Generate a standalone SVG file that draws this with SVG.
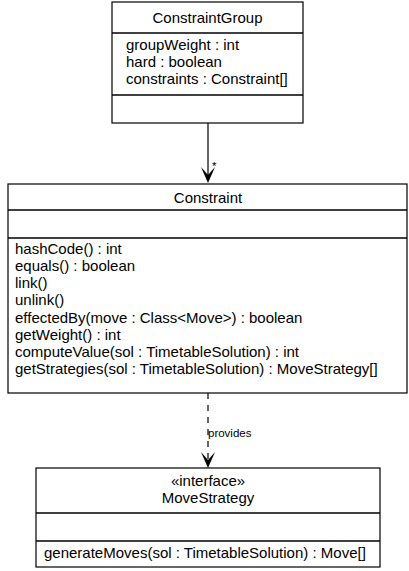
<svg xmlns="http://www.w3.org/2000/svg" width="409" height="571" viewBox="0 0 409 571">
  <style>
    .box { fill: #ffffff; stroke: #000000; stroke-width: 1.2; }
    .sep { stroke: #000000; stroke-width: 1.5; }
    .t { font-family: "Liberation Sans", Arial, sans-serif; font-size: 15px; fill: #000000; }
    .c { text-anchor: middle; }
    .lbl { font-family: "Liberation Sans", Arial, sans-serif; font-size: 11.5px; fill: #000000; }
    .edge { stroke: #000000; stroke-width: 1.2; fill: none; }
    .dash { stroke-dasharray: 6 6; }
    .head { fill: #000000; }
  </style>
  <rect width="409" height="571" fill="#ffffff"/>

  <g id="edges">
    <!-- association ConstraintGroup -> Constraint -->
    <line class="edge" x1="208" y1="123" x2="208" y2="178"/>
    <path class="head" d="M208,183 L201,167 L208,175 L215,167 Z"/>
    <text class="lbl" x="212" y="170">*</text>
    <!-- dependency Constraint -> MoveStrategy -->
    <line class="edge dash" x1="208" y1="393" x2="208" y2="462"/>
    <path class="head" d="M208,468 L201,452 L208,460 L215,452 Z"/>
    <text class="lbl" x="208" y="437">provides</text>
  </g>

  <g id="ConstraintGroup">
    <rect class="box" x="112" y="2" width="191" height="121"/>
    <line class="sep" x1="112" y1="33" x2="303" y2="33"/>
    <line class="sep" x1="112" y1="95" x2="303" y2="95"/>
    <text class="t c" x="207.5" y="23">ConstraintGroup</text>
    <text class="t" x="126" y="50">groupWeight : int</text>
    <text class="t" x="126" y="67">hard : boolean</text>
    <text class="t" x="126" y="84">constraints : Constraint[]</text>
  </g>

  <g id="Constraint">
    <rect class="box" x="8" y="184" width="399" height="209"/>
    <line class="sep" x1="8" y1="210" x2="407" y2="210"/>
    <line class="sep" x1="8" y1="238" x2="407" y2="238"/>
    <text class="t c" x="208" y="203">Constraint</text>
    <text class="t" x="15" y="254">hashCode() : int</text>
    <text class="t" x="15" y="271">equals() : boolean</text>
    <text class="t" x="15" y="288">link()</text>
    <text class="t" x="15" y="305">unlink()</text>
    <text class="t" x="15" y="323">effectedBy(move : Class&lt;Move&gt;) : boolean</text>
    <text class="t" x="15" y="340">getWeight() : int</text>
    <text class="t" x="15" y="357">computeValue(sol : TimetableSolution) : int</text>
    <text class="t" x="15" y="374">getStrategies(sol : TimetableSolution) : MoveStrategy[]</text>
  </g>

  <g id="MoveStrategy">
    <rect class="box" x="36" y="468" width="344" height="99"/>
    <line class="sep" x1="36" y1="513" x2="380" y2="513"/>
    <line class="sep" x1="36" y1="541" x2="380" y2="541"/>
    <text class="t c" x="208" y="486">«interface»</text>
    <text class="t c" x="208" y="503">MoveStrategy</text>
    <text class="t" x="44" y="558">generateMoves(sol : TimetableSolution) : Move[]</text>
  </g>
</svg>
